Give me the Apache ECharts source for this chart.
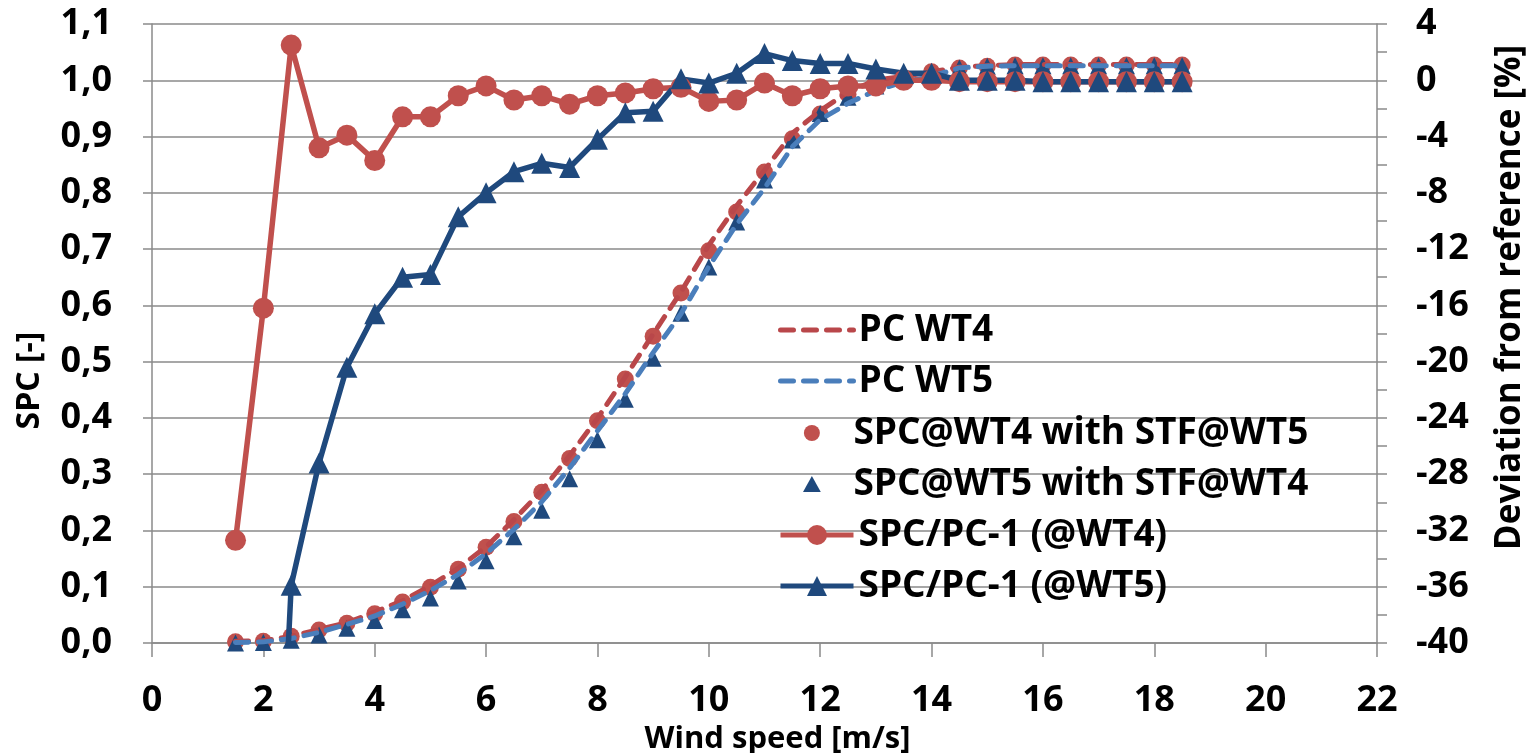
<!DOCTYPE html>
<html>
<head>
<meta charset="utf-8">
<script src="https://cdn.jsdelivr.net/npm/echarts@6/dist/echarts.min.js"></script>
<style>
html,body{margin:0;padding:0;background:#fff;overflow:hidden;}
#chart{width:1526px;height:753px;}
</style>
</head>
<body>
<div id="chart"></div>
<script>
// ---- data ----
const windSpeed = [1.5,2,2.5,3,3.5,4,4.5,5,5.5,6,6.5,7,7.5,8,8.5,9,9.5,10,10.5,11,11.5,12,12.5,13,13.5,14,14.5,15,15.5,16,16.5,17,17.5,18,18.5];

// left axis: SPC [-]
const pcWT4 = [0.003,0.004,0.012,0.024,0.036,0.055,0.075,0.102,0.133,0.171,0.219,0.271,0.333,0.399,0.473,0.549,0.624,0.707,0.777,0.840,0.906,0.946,0.979,1.000,1.007,1.015,1.023,1.026,1.028,1.028,1.028,1.028,1.028,1.028,1.028];
const pcWT5 = [0.001,0.002,0.008,0.019,0.033,0.048,0.069,0.093,0.122,0.159,0.202,0.251,0.311,0.377,0.443,0.516,0.585,0.669,0.744,0.808,0.882,0.930,0.959,0.982,0.997,1.007,1.022,1.025,1.026,1.026,1.026,1.026,1.026,1.026,1.026];
const spcWT4 = [0.002,0.003,0.012,0.023,0.035,0.052,0.073,0.099,0.131,0.170,0.216,0.268,0.328,0.395,0.469,0.545,0.622,0.697,0.766,0.837,0.896,0.940,0.975,0.995,1.005,1.015,1.022,1.025,1.027,1.027,1.027,1.027,1.027,1.027,1.027];
const spcWT5 = [0.000,0.001,0.005,0.014,0.026,0.040,0.059,0.080,0.110,0.146,0.189,0.236,0.292,0.361,0.433,0.506,0.586,0.668,0.748,0.823,0.894,0.941,0.970,0.990,1.003,1.013,1.022,1.025,1.026,1.026,1.026,1.026,1.026,1.026,1.026];

// right axis: deviation from reference [%]
const devWT4 = [-32.7,-16.2,2.5,-4.8,-3.9,-5.7,-2.6,-2.6,-1.1,-0.4,-1.4,-1.1,-1.7,-1.1,-0.9,-0.6,-0.5,-1.5,-1.4,-0.2,-1.1,-0.6,-0.4,-0.4,0,0,-0.1,-0.1,-0.1,-0.1,-0.1,-0.1,-0.1,-0.1,-0.1];
const devWT5 = [null,-77,-35.9,-27.2,-20.4,-16.6,-14.0,-13.8,-9.7,-8.0,-6.5,-5.9,-6.2,-4.2,-2.3,-2.2,0.1,-0.2,0.5,1.9,1.4,1.2,1.2,0.8,0.5,0.5,0,0,0,-0.1,-0.1,-0.1,-0.1,-0.1,-0.1];

const seriesNames = ['PC WT4','PC WT5','SPC@WT4 with STF@WT5','SPC@WT5 with STF@WT4','SPC/PC-1 (@WT4)','SPC/PC-1 (@WT5)'];
const xTitle = 'Wind speed [m/s]';
const yLeftTitle = 'SPC [-]';
const yRightTitle = 'Deviation from reference [%]';

// ---- chart ----
const pairs = ys => windSpeed.map((x, i) => [x, ys[i]]);
const FONT = 'Open Sans';
const GRAY = '#8a8a8a';
const RED = '#C0504D';
const DRED = '#B9474A';
const BLUE = '#1F497D';
const LBLUE = '#4A7EBB';
const TRI = 'path://M0,0L1,1.8L-1,1.8Z';

const legendText = {fontFamily: FONT, fontWeight: 'bold', fontSize: 37, color: '#000', lineHeight: 40};
const legendBase = {orient: 'vertical', itemWidth: 73, itemGap: 11, symbolKeepAspect: true,
  textStyle: legendText, selectedMode: false, lineStyle: {width: 5}};

const chart = echarts.init(document.getElementById('chart'), null, {renderer: 'canvas'});
chart.setOption({
  backgroundColor: '#fff',
  animation: false,
  textStyle: {fontFamily: FONT},
  grid: {left: 152, right: 149, top: 24, bottom: 110, containLabel: false, outerBoundsMode: 'none'},
  legend: [
    Object.assign({}, legendBase, {
      left: 773, top: 305, itemHeight: 25,
      data: [
        {name: seriesNames[0], itemStyle: {opacity: 0}},
        {name: seriesNames[1], itemStyle: {opacity: 0}}
      ]
    }),
    Object.assign({}, legendBase, {
      left: 798, top: 408, itemHeight: 16,
      data: [
        {name: seriesNames[2], icon: 'circle'},
        {name: seriesNames[3], icon: TRI}
      ]
    }),
    Object.assign({}, legendBase, {
      left: 773, top: 510, itemHeight: 25,
      data: [
        {name: seriesNames[4]},
        {name: seriesNames[5]}
      ]
    })
  ],
  xAxis: {
    type: 'value', min: 0, max: 22, interval: 2,
    name: xTitle, nameLocation: 'middle', nameGap: 78,
    nameTextStyle: {fontFamily: FONT, fontWeight: 'bold', fontSize: 31, color: '#000', padding: [0, 0, 0, 26]},
    axisLine: {show: true, lineStyle: {color: GRAY, width: 1.5}},
    axisTick: {show: true, inside: false, length: 14, lineStyle: {color: GRAY, width: 1.5}},
    axisLabel: {fontFamily: FONT, fontWeight: 'bold', fontSize: 36, color: '#000', margin: 40},
    splitLine: {show: false}
  },
  yAxis: [
    {
      type: 'value', min: 0, max: 1.1, interval: 0.1, position: 'left',
      name: yLeftTitle, nameLocation: 'middle', nameGap: 106, nameRotate: 90,
      nameTextStyle: {fontFamily: FONT, fontWeight: 'bold', fontSize: 32, color: '#000', padding: [0, 94, 0, 0]},
      axisLine: {show: true, lineStyle: {color: GRAY, width: 1.5}},
      axisTick: {show: true, inside: false, length: 9, lineStyle: {color: GRAY, width: 1.5}},
      axisLabel: {fontFamily: FONT, fontWeight: 'bold', fontSize: 36, color: '#000', margin: 40,
        formatter: v => v.toFixed(1).replace('.', ',')},
      splitLine: {show: true, lineStyle: {color: GRAY, width: 1.5}}
    },
    {
      type: 'value', min: -40, max: 4, interval: 4, position: 'right',
      name: yRightTitle, nameLocation: 'middle', nameGap: 116, nameRotate: 90,
      nameTextStyle: {fontFamily: FONT, fontWeight: 'bold', fontSize: 35, color: '#000', padding: [0, 0, 0, 72]},
      axisLine: {show: true, lineStyle: {color: GRAY, width: 1.5}},
      axisTick: {show: true, inside: false, length: 10, lineStyle: {color: GRAY, width: 1.5}},
      minorTick: {show: true, splitNumber: 2, length: 10, lineStyle: {color: GRAY, width: 1.5}},
      axisLabel: {fontFamily: FONT, fontWeight: 'bold', fontSize: 36, color: '#000', margin: 39,
        formatter: v => String(Math.round(v))},
      splitLine: {show: false}
    }
  ],
  series: [
    {
      name: seriesNames[0], type: 'line', yAxisIndex: 0, data: pairs(pcWT4),
      symbol: 'none', color: DRED,
      lineStyle: {color: DRED, width: 5, type: [13, 10], cap: 'round'}
    },
    {
      name: seriesNames[1], type: 'line', yAxisIndex: 0, data: pairs(pcWT5),
      symbol: 'none', color: LBLUE,
      lineStyle: {color: LBLUE, width: 5, type: [13, 10], cap: 'round'}
    },
    {
      name: seriesNames[2], type: 'scatter', yAxisIndex: 0, data: pairs(spcWT4),
      symbol: 'circle', symbolSize: 17, itemStyle: {color: RED, opacity: 1}
    },
    {
      name: seriesNames[3], type: 'scatter', yAxisIndex: 0, data: pairs(spcWT5),
      symbol: 'triangle', symbolSize: 17, itemStyle: {color: BLUE, opacity: 1}
    },
    {
      name: seriesNames[4], type: 'line', yAxisIndex: 1, data: pairs(devWT4),
      symbol: 'circle', symbolSize: 21, showSymbol: true, clip: true,
      itemStyle: {color: RED}, lineStyle: {color: RED, width: 5.5}
    },
    {
      name: seriesNames[5], type: 'line', yAxisIndex: 1, data: pairs(devWT5),
      symbol: 'triangle', symbolSize: 21, showSymbol: true, clip: true,
      itemStyle: {color: BLUE}, lineStyle: {color: BLUE, width: 5.5}
    }
  ]
});
</script>
</body>
</html>
